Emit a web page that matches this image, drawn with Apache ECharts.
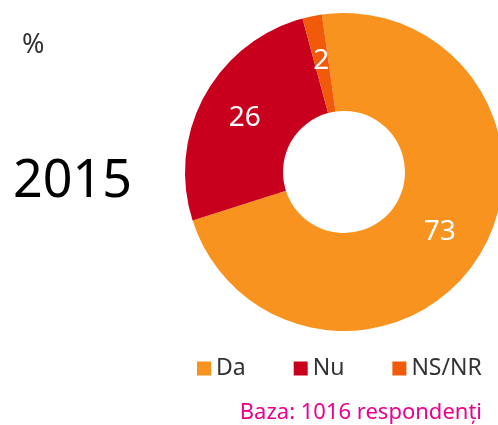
<!DOCTYPE html>
<html>
<head>
<meta charset="utf-8">
<script src="https://cdn.jsdelivr.net/npm/echarts@6/dist/echarts.min.js"></script>
<style>
  body { margin: 0; background: #fff; }
  #chart { width: 498px; height: 425px; }
</style>
</head>
<body>
<div id="chart"></div>
<script>
  // date
  var categories = ['Da', 'Nu', 'NS/NR'];
  var values = [73, 26, 2];
  var colors = ['#f7931e', '#c8001e', '#f05a0a'];

  var chart = echarts.init(document.getElementById('chart'));
  var option = {
    animation: false,
    textStyle: { fontFamily: 'Noto Sans' },
    legend: {
      data: categories,
      left: 192,
      top: 352,
      itemWidth: 14,
      itemHeight: 14,
      itemGap: 48,
      icon: 'rect',
      textStyle: { fontSize: 23, color: '#333', fontFamily: 'Noto Sans' }
    },
    graphic: [
      { type: 'text', left: 22, top: 32, style: { text: '%', fontSize: 27, fill: '#333', fontFamily: 'Noto Sans' } },
      { type: 'text', left: 13, top: 156, style: { text: '2015', fontSize: 52, fill: '#000', fontFamily: 'Noto Sans' } },
      { type: 'text', right: 16, top: 402, style: { text: 'Baza: 1016 respondenți', fontSize: 22, fill: '#ec008c', fontFamily: 'Noto Sans' } }
    ],
    series: [{
      type: 'pie',
      center: [344, 172],
      radius: [61, 159],
      startAngle: 98,
      clockwise: true,
      avoidLabelOverlap: false,
      label: {
        show: true,
        position: 'inside',
        formatter: '{c}',
        color: '#fff',
        fontSize: 28,
        fontFamily: 'Noto Sans'
      },
      labelLine: { show: false },
      data: categories.map(function (name, i) {
        return { name: name, value: values[i], itemStyle: { color: colors[i] } };
      })
    }]
  };
  chart.setOption(option);
</script>
</body>
</html>
